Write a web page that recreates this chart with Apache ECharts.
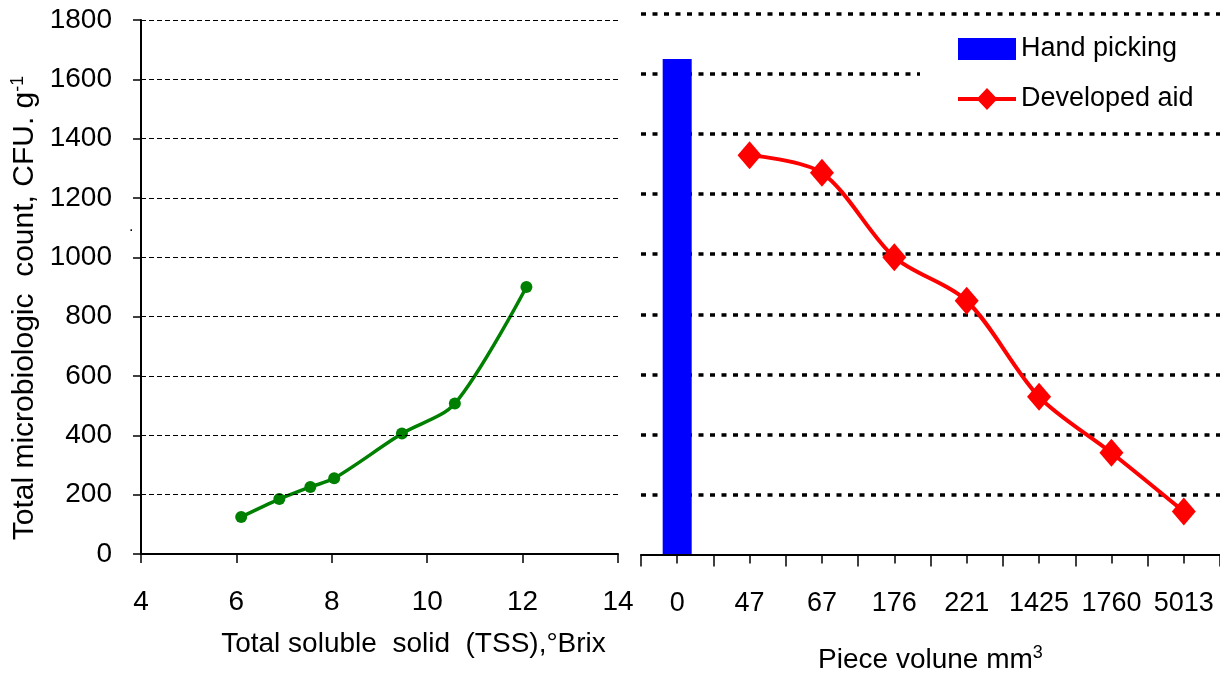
<!DOCTYPE html>
<html><head><meta charset="utf-8">
<script src="https://cdn.jsdelivr.net/npm/echarts@6/dist/echarts.min.js"></script>
<style>html,body{margin:0;padding:0;background:#fff}#c{width:1220px;height:673px}</style>
</head><body><div id="c"></div>
<script>
// ---- data ----
const tssValues = [6.1, 6.9, 7.55, 8.05, 9.47, 10.58, 12.08];
const tssCounts = [125, 185, 226, 255, 406, 507, 900];
const volumeCategories = ['0', '47', '67', '176', '221', '1425', '1760', '5013'];
const handPicking = [1650, null, null, null, null, null, null, null];
const developedAid = [null, 1330, 1271, 990, 845, 525, 339, 143];
const tssTicks = [4, 6, 8, 10, 12, 14];
const countTicks = [0, 200, 400, 600, 800, 1000, 1200, 1400, 1600, 1800];

const sans = 'Liberation Sans, Arial, sans-serif';

const chart = echarts.init(document.getElementById('c'), null, {renderer: 'canvas'});
const minorCats = [];
for (let i = 0; i < volumeCategories.length * 2; i++) minorCats.push('');

chart.setOption({
  animation: false,
  backgroundColor: '#fff',
  grid: [
    {left: 141, right: 602, top: 20, bottom: 119, containLabel: false, outerBoundsMode: 'none'},
    {left: 641, right: 0, top: 14, bottom: 118.5, containLabel: false, outerBoundsMode: 'none'}
  ],
  legend: {
    left: 920, top: 30,
    orient: 'vertical',
    backgroundColor: '#fff',
    padding: [4, 60, 4, 38],
    itemWidth: 58, itemHeight: 22, itemGap: 20,
    textStyle: {fontFamily: sans, fontSize: 27, color: '#000', lineHeight: 30},
    data: [
      {name: 'Hand picking', icon: 'rect'},
      {name: 'Developed aid',
        icon: 'path://M0,9 L20.5,9 L29,0 L37.5,9 L58,9 L58,13 L37.5,13 L29,22 L20.5,13 L0,13 Z'}
    ]
  },
  xAxis: [
    {
      type: 'value', gridIndex: 0, z: 5,
      min: tssTicks[0], max: tssTicks[tssTicks.length - 1], interval: tssTicks[1] - tssTicks[0],
      axisLine: {show: true, lineStyle: {color: '#000', width: 2}},
      axisTick: {show: true, inside: false, length: 9, lineStyle: {color: '#000', width: 1.5}},
      axisLabel: {fontFamily: sans, fontSize: 28, color: '#000', margin: 34},
      splitLine: {show: false},
      name: 'Total soluble  solid  (TSS),°Brix',
      nameLocation: 'middle', nameGap: 76,
      nameTextStyle: {fontFamily: sans, fontSize: 28, color: '#000', padding: [0, 0, 0, 68]}
    },
    {
      type: 'category', gridIndex: 1, data: volumeCategories, boundaryGap: true, z: 5,
      axisLine: {show: true, lineStyle: {color: '#000', width: 2}},
      axisTick: {show: true, inside: false, length: 12, interval: 0, lineStyle: {color: '#000', width: 1.5}},
      axisLabel: {fontFamily: sans, fontSize: 27, color: '#000', margin: 36, interval: 0},
      splitLine: {show: false},
      name: 'Piece volune mm{sup|3}',
      nameLocation: 'middle', nameGap: 90,
      nameTextStyle: {fontFamily: sans, fontSize: 28, color: '#000',
        rich: {sup: {fontFamily: sans, fontSize: 18, color: '#000', padding: [0, 0, 14, 0]}}}
    },
    {
      type: 'category', gridIndex: 1, data: minorCats, boundaryGap: true, position: 'bottom', z: 5,
      axisLine: {show: false},
      axisTick: {show: true, inside: false, length: 9, interval: 0, lineStyle: {color: '#000', width: 1.5}},
      axisLabel: {show: false},
      splitLine: {show: false}
    }
  ],
  yAxis: [
    {
      type: 'value', gridIndex: 0, z: 5,
      min: countTicks[0], max: countTicks[countTicks.length - 1], interval: countTicks[1] - countTicks[0],
      axisLine: {show: true, lineStyle: {color: '#000', width: 2}},
      axisTick: {show: true, inside: false, length: 8, lineStyle: {color: '#000', width: 1.5}},
      axisLabel: {fontFamily: sans, fontSize: 28, color: '#000', margin: 29, formatter: (v) => String(v)},
      splitLine: {show: true, showMinLine: false, lineStyle: {color: '#000', width: 1.2, type: [5, 3]}},
      name: 'Total microbiologic  count, CFU. g{sup|-1}',
      nameLocation: 'middle', nameGap: 100, nameRotate: 90,
      nameTextStyle: {fontFamily: sans, fontSize: 30, color: '#000', padding: [0, 42, 0, 0],
        rich: {sup: {fontFamily: sans, fontSize: 18, color: '#000', padding: [0, 0, 14, 0]}}}
    },
    {
      type: 'value', gridIndex: 1,
      min: countTicks[0], max: countTicks[countTicks.length - 1], interval: countTicks[1] - countTicks[0],
      axisLine: {show: false}, axisTick: {show: false}, axisLabel: {show: false},
      splitLine: {show: true, showMinLine: false, lineStyle: {color: '#000', width: 3.5, type: [5, 6.5]}}
    }
  ],
  graphic: [
    {type: 'text', left: 129, top: 219, silent: true,
      style: {text: '.', fontFamily: sans, fontSize: 16, fill: '#000'}}
  ],
  series: [
    {
      name: 'TSS', type: 'line', xAxisIndex: 0, yAxisIndex: 0,
      data: tssValues.map((v, i) => [v, tssCounts[i]]),
      smooth: 0.3,
      symbol: 'circle', symbolSize: 12,
      itemStyle: {color: '#008000'},
      lineStyle: {color: '#008000', width: 3.5}
    },
    {
      name: 'Hand picking', type: 'bar', xAxisIndex: 1, yAxisIndex: 1,
      data: handPicking, barWidth: 29,
      itemStyle: {color: '#0000FF'}
    },
    {
      name: 'Developed aid', type: 'line', xAxisIndex: 1, yAxisIndex: 1,
      data: developedAid, smooth: 0.3,
      symbol: 'diamond', symbolSize: [24, 28],
      itemStyle: {color: '#FF0000'},
      lineStyle: {color: '#FF0000', width: 4}
    }
  ]
});
</script>
</body></html>
